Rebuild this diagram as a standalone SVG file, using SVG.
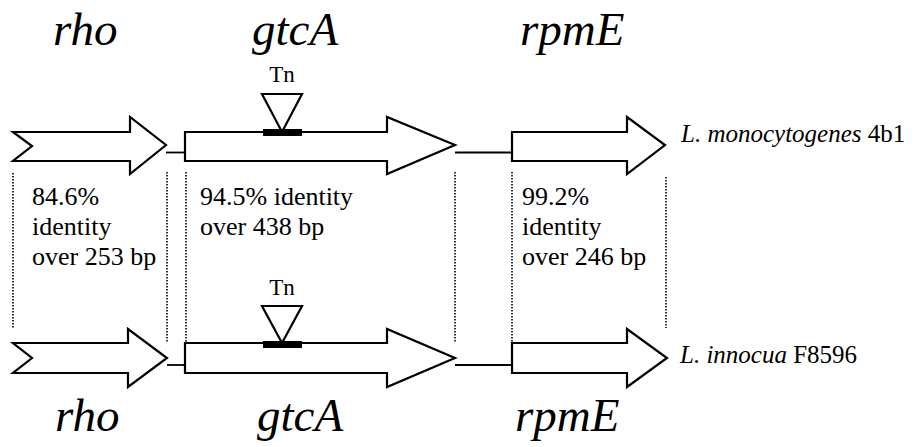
<svg xmlns="http://www.w3.org/2000/svg" width="916" height="447" viewBox="0 0 916 447">
<style>
.gene{fill:#fff;stroke:#000;stroke-width:2.2;stroke-linejoin:miter}
.line{stroke:#000;stroke-width:1.8;fill:none}
.dot{stroke:#000;stroke-width:1.6;stroke-dasharray:1.5 1.5;fill:none}
.tri{fill:#fff;stroke:#000;stroke-width:2.2}
.bar{fill:#000}
text{font-family:'Liberation Serif','Times New Roman',Times,serif;fill:#000}
.lab{font-size:47px;font-style:italic}
.id{font-size:26px}
.tn{font-size:23px}
.sp{font-size:25px}
</style>
<rect width="916" height="447" fill="#fff"/>
<g id="connectors">
<line class="line" x1="166" y1="152.5" x2="185" y2="152.5"/>
<line class="line" x1="455" y1="152.5" x2="512" y2="152.5"/>
<line class="line" x1="167" y1="365" x2="185" y2="365"/>
<line class="line" x1="455" y1="365" x2="512" y2="365"/>
<line class="dot" x1="13" y1="173" x2="13" y2="328"/>
<line class="dot" x1="167" y1="172" x2="167" y2="342"/>
<line class="dot" x1="186" y1="172" x2="186" y2="342"/>
<line class="dot" x1="455" y1="172" x2="455" y2="342"/>
<line class="dot" x1="512" y1="172" x2="512" y2="343"/>
<line class="dot" x1="666" y1="177" x2="666" y2="328"/>
</g>
<g id="rho-top">
<path class="gene" d="M13,132 L130,132 L130,117 L166,145 L130,174 L130,161 L13,161 L32,146 Z"/>
<text class="lab" font-family="Liberation Serif, serif" x="53" y="45">rho</text>
</g>
<g id="gtcA-top">
<path class="gene" d="M185,132 L387,132 L387,117 L455,145 L387,174 L387,161 L185,161 Z"/>
<text class="lab" font-family="Liberation Serif, serif" x="252" y="45">gtcA</text>
</g>
<g id="tn-top">
<polygon class="tri" points="262,94 302,94 282,132"/>
<rect class="bar" x="263" y="129" width="39" height="7"/>
<text class="tn" font-family="Liberation Serif, serif" x="282" y="82" text-anchor="middle">Tn</text>
</g>
<g id="rpmE-top">
<path class="gene" d="M512,132 L627,132 L627,117 L665,145 L627,174 L627,161 L512,161 Z"/>
<text class="lab" font-family="Liberation Serif, serif" x="520" y="45">rpmE</text>
</g>
<g id="strain-top">
<text class="sp" font-family="Liberation Serif, serif" x="681" y="142"><tspan font-style="italic">L. monocytogenes</tspan> 4b1</text>
</g>
<g id="rho-bottom">
<path class="gene" d="M13,343 L128,343 L128,329 L167,358 L128,387 L128,373 L13,373 L32,358 Z"/>
<text class="lab" font-family="Liberation Serif, serif" x="55" y="431">rho</text>
</g>
<g id="gtcA-bottom">
<path class="gene" d="M185,343 L387,343 L387,329 L455,358 L387,387 L387,373 L185,373 Z"/>
<text class="lab" font-family="Liberation Serif, serif" x="257" y="431">gtcA</text>
</g>
<g id="tn-bottom">
<polygon class="tri" points="262,306 302,306 282,343"/>
<rect class="bar" x="263" y="341" width="39" height="7"/>
<text class="tn" font-family="Liberation Serif, serif" x="282" y="295" text-anchor="middle">Tn</text>
</g>
<g id="rpmE-bottom">
<path class="gene" d="M512,343 L627,343 L627,329 L667,358 L627,387 L627,373 L512,373 Z"/>
<text class="lab" font-family="Liberation Serif, serif" x="515" y="431">rpmE</text>
</g>
<g id="strain-bottom">
<text class="sp" font-family="Liberation Serif, serif" x="680" y="363"><tspan font-style="italic">L. innocua</tspan> F8596</text>
</g>
<g id="identity-rho">
<text class="id" font-family="Liberation Serif, serif" x="32" y="205">84.6%</text>
<text class="id" font-family="Liberation Serif, serif" x="32" y="235">identity</text>
<text class="id" font-family="Liberation Serif, serif" x="32" y="265">over 253 bp</text>
</g>
<g id="identity-gtcA">
<text class="id" font-family="Liberation Serif, serif" x="200" y="205">94.5% identity</text>
<text class="id" font-family="Liberation Serif, serif" x="200" y="235">over 438 bp</text>
</g>
<g id="identity-rpmE">
<text class="id" font-family="Liberation Serif, serif" x="522" y="205">99.2%</text>
<text class="id" font-family="Liberation Serif, serif" x="522" y="235">identity</text>
<text class="id" font-family="Liberation Serif, serif" x="522" y="265">over 246 bp</text>
</g>
</svg>
